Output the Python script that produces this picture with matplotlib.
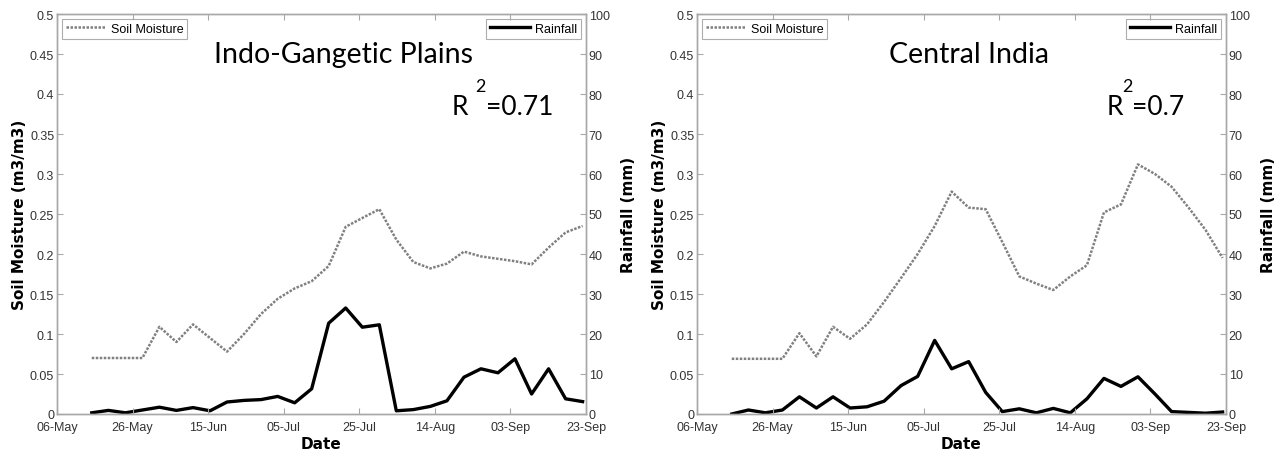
import matplotlib
matplotlib.use("Agg")
import matplotlib.pyplot as plt

# ---- data (days after 06-May) ----
days = [9.2, 13.6, 18.1, 22.6, 27.1, 31.6, 36.0, 40.5, 45.0, 49.5,
        54.0, 58.4, 62.9, 67.4, 71.9, 76.4, 80.8, 85.3, 89.8, 94.3,
        98.8, 103.2, 107.7, 112.2, 116.7, 121.2, 125.6, 130.1, 134.6, 139.1]
tick_days = [0, 20, 40, 60, 80, 100, 120, 140]
tick_labels = ["06-May", "26-May", "15-Jun", "05-Jul", "25-Jul", "14-Aug", "03-Sep", "23-Sep"]

igp_soil = [0.070, 0.070, 0.070, 0.070, 0.109, 0.090, 0.112, 0.095, 0.078, 0.100,
            0.125, 0.144, 0.157, 0.166, 0.185, 0.234, 0.245, 0.256, 0.218, 0.190,
            0.182, 0.188, 0.203, 0.197, 0.194, 0.191, 0.187, 0.208, 0.227, 0.235]
igp_rain = [0.3, 0.9, 0.3, 1.0, 1.7, 0.9, 1.6, 0.8, 3.0, 3.4,
            3.6, 4.4, 2.8, 6.3, 22.7, 26.5, 21.7, 22.3, 0.8, 1.1,
            1.9, 3.3, 9.2, 11.3, 10.3, 13.8, 5.0, 11.3, 3.8, 3.1]

ci_soil = [0.069, 0.069, 0.069, 0.069, 0.101, 0.072, 0.109, 0.094, 0.112, 0.140,
           0.170, 0.200, 0.235, 0.278, 0.258, 0.256, 0.215, 0.172, 0.163, 0.155,
           0.172, 0.186, 0.252, 0.262, 0.312, 0.300, 0.284, 0.258, 0.230, 0.195]
ci_rain = [0.0, 1.0, 0.3, 1.0, 4.3, 1.5, 4.3, 1.5, 1.8, 3.2,
           7.1, 9.4, 18.4, 11.3, 13.1, 5.4, 0.6, 1.3, 0.3, 1.4,
           0.3, 3.8, 8.9, 6.9, 9.3, 5.0, 0.6, 0.4, 0.2, 0.5]

panels = [
    ("Indo-Gangetic Plains", "0.71", igp_soil, igp_rain),
    ("Central India", "0.7", ci_soil, ci_rain),
]

W, H = 1284, 452
fig = plt.figure(figsize=(W / 100, H / 100), dpi=100)

spine_c = "#a8a8a8"
tick_c = "#333333"

positions = [(57, 586), (697, 1226)]
title_cx = [344, 969]
r_x = [(452, 486, 480), (1107, 1132, 1127)]
top_px, bot_px = 15, 415

for i, ((x0, x1), (title, r2, soil, rain)) in enumerate(zip(positions, panels)):
    ax = fig.add_axes([x0 / W, 1 - bot_px / H, (x1 - x0) / W, (bot_px - top_px) / H])
    ax2 = ax.twinx()
    ax.set_zorder(ax2.get_zorder() + 1)
    ax.patch.set_visible(False)

    ax.plot(days, soil, linestyle=(0, (1, 0.6)), color="#808080", lw=1.8, label="Soil Moisture")
    ax2.plot(days, rain, color="black", lw=2.4, label="Rainfall")

    ax.set_xlim(0, 140)
    ax.set_ylim(0, 0.5)
    ax2.set_ylim(0, 100)
    ax.set_xticks(tick_days)
    ax.set_xticklabels(tick_labels)
    ax.set_yticks([0, 0.05, 0.1, 0.15, 0.2, 0.25, 0.3, 0.35, 0.4, 0.45, 0.5])
    ax.set_yticklabels(["0", "0.05", "0.1", "0.15", "0.2", "0.25", "0.3", "0.35", "0.4", "0.45", "0.5"])
    ax2.set_yticks(range(0, 101, 10))

    for a in (ax, ax2):
        for s in a.spines.values():
            s.set_color(spine_c)
            s.set_linewidth(1.0)
        a.tick_params(direction="in", length=4, width=0.8, color=spine_c, labelcolor=tick_c, pad=2)
        for lab in a.get_xticklabels() + a.get_yticklabels():
            lab.set_fontfamily("Liberation Sans")
            lab.set_fontsize(9)
    ax.tick_params(axis="x", top=True, pad=5)

    ax.set_ylabel("Soil Moisture (m3/m3)", fontfamily="DejaVu Sans", fontweight="bold", fontsize=11, labelpad=2)
    ax2.set_ylabel("Rainfall (mm)", fontfamily="DejaVu Sans", fontweight="bold", fontsize=11, labelpad=8)
    ax.set_xlabel("Date", fontfamily="DejaVu Sans", fontweight="bold", fontsize=11, labelpad=2)

    leg1 = ax.legend(loc="upper left", prop=dict(family="Liberation Sans", size=9),
                     frameon=True, fancybox=False, edgecolor="#999999", handlelength=3.2,
                     borderpad=0.3, handletextpad=0.4, borderaxespad=0.4)
    leg1.get_frame().set_linewidth(0.8)
    leg2 = ax2.legend(loc="upper right", prop=dict(family="Liberation Sans", size=9),
                      frameon=True, fancybox=False, edgecolor="#999999", handlelength=3.2,
                      borderpad=0.3, handletextpad=0.4, borderaxespad=0.4)
    leg2.get_frame().set_linewidth(0.8)

    # titles and R^2
    fig.text(title_cx[i] / W, 1 - 63 / H, title,
             fontfamily="Lato", fontsize=20.5, ha="center", va="baseline", color="black")
    rx, ex, tx = r_x[i]
    fig.text(rx / W, 1 - 115 / H, "R", fontfamily="Lato", fontsize=19, ha="left", va="baseline")
    fig.text(ex / W, 1 - 115 / H, "=" + r2, fontfamily="Lato", fontsize=19, ha="left", va="baseline")
    fig.text(tx / W, 1 - 92 / H, "2", fontfamily="Lato", fontsize=13, ha="center", va="baseline")

fig.savefig("out.png", dpi=100)
